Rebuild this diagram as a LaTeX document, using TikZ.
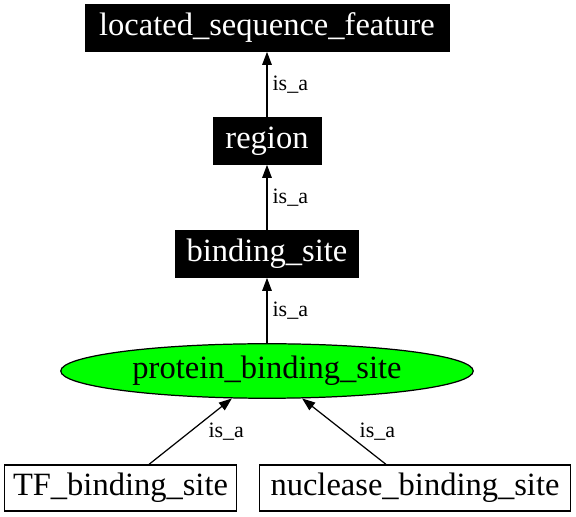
\documentclass[tikz,border=0pt]{standalone}
\usepackage{fontspec}
\setmainfont{Liberation Serif}
\usetikzlibrary{arrows.meta,shapes.geometric}
\definecolor{sitegreen}{RGB}{0,255,0}
\tikzset{bblock/.style = {draw, fill=black, text=white, rectangle, inner sep=0pt, minimum height=0.94cm, font=\fontsize{18.5}{22}\selectfont},
         wblock/.style = {draw, fill=white, line width=0.7pt, rectangle, inner sep=0pt, minimum height=0.92cm, font=\fontsize{18.5}{22}\selectfont},
         gell/.style = {draw, fill=sitegreen, line width=0.7pt, ellipse, inner sep=0pt, minimum width=8.25cm, minimum height=1.09cm, font=\fontsize{18.5}{22}\selectfont},
         isaline/.style = {-{Triangle[length=2.6mm,width=1.9mm]}, line width=0.7pt},
         isa/.style = {inner sep=0pt, font=\fontsize{12.5}{15}\selectfont}}

\begin{document}
\begin{tikzpicture}
    \useasboundingbox(0,0)rectangle(11.52,10.34);
    \node[bblock,minimum width=7.28cm](lsf)at(5.34,9.78){located\_sequence\_feature};
    \node[bblock,minimum width=2.16cm](region)at(5.34,7.52){region};
    \node[bblock,minimum width=3.66cm](bs)at(5.34,5.26){binding\_site};
    \node[gell](pbs)at(5.34,2.92){protein\_binding\_site};
    \node[wblock,minimum width=4.64cm](tf)at(2.41,0.58){TF\_binding\_site};
    \node[wblock,minimum width=6.23cm](nbs)at(8.30,0.58){nuclease\_binding\_site};
    \draw[isaline](region.north)--(lsf.south)node[isa,midway,right=1mm]{is\_a};
    \draw[isaline](bs.north)--(region.south)node[isa,midway,right=1mm]{is\_a};
    \draw[isaline](pbs.north)--(bs.south)node[isa,midway,right=1mm]{is\_a};
    \draw[isaline]([xshift=0.57cm]tf.north)--(pbs.218)node[isa,midway,right=3.5mm]{is\_a};
    \draw[isaline]([xshift=-0.58cm]nbs.north)--(pbs.322)node[isa,midway,right=3mm]{is\_a};
\end{tikzpicture}
\end{document}
